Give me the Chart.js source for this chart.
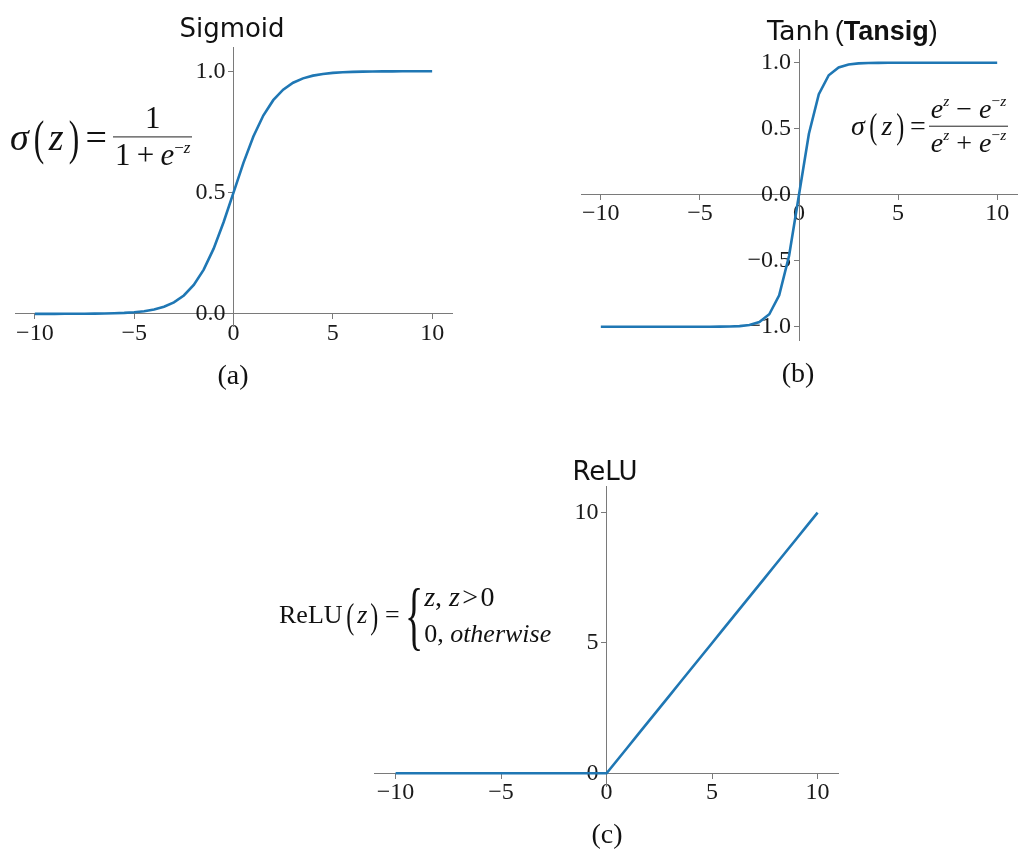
<!DOCTYPE html>
<html><head><meta charset="utf-8">
<script src="https://cdn.jsdelivr.net/npm/chart.js@4.4.0/dist/chart.umd.min.js"></script>
<style>
html,body{margin:0;padding:0;background:#fff;}
body{width:1019px;height:854px;position:relative;overflow:hidden;}
canvas{position:absolute;left:0;top:0;}
.t{position:absolute;white-space:nowrap;color:#111;line-height:1;}
.title{font-family:'DejaVu Sans';font-size:26px;}
.cap{font-family:'Liberation Serif';font-size:28px;transform:translateX(-50%);}
.m{font-family:'Liberation Serif';display:flex;align-items:center;color:#111;}
.frac{display:inline-flex;flex-direction:column;align-items:center;}
.frac .n{padding:0 2px 1px;line-height:1.1;}
.frac .d{border-top:1.5px solid #222;padding:1px 2px 0;line-height:1.1;}
.i{font-style:italic;}
.p{display:inline-block;transform:scale(0.75,1.15);}
sup{font-size:0.55em;vertical-align:0.75em;line-height:0;}
</style></head>
<body>
<canvas id="c1" width="1019" height="854" style="width:1019px;height:854px"></canvas>
<canvas id="c2" width="1019" height="854" style="width:1019px;height:854px"></canvas>
<canvas id="c3" width="1019" height="854" style="width:1019px;height:854px"></canvas>

<div class="t title" style="left:232px;top:15px;transform:translateX(-50%)">Sigmoid</div>
<div class="t" style="left:767px;top:17px;"><span style="font-family:'DejaVu Sans';font-size:27px">Tanh</span><span style="font-family:'Liberation Sans';font-size:27px;margin-left:5px">(<b>Tansig</b>)</span></div>
<div class="t title" style="left:605px;top:458px;transform:translateX(-50%)">ReLU</div>

<div class="t cap" style="left:233px;top:361px">(a)</div>
<div class="t cap" style="left:798px;top:359px">(b)</div>
<div class="t cap" style="left:607px;top:820px">(c)</div>

<div class="t m" style="left:10px;top:137px;transform:translateY(-50%);font-size:38px">
  <span class="i">σ</span><span class="p" style="font-size:42px;margin:0 3px">(</span><span class="i">z</span><span class="p" style="font-size:42px;margin:0 3px">)</span><span style="margin:0 6px 0 2px">=</span>
  <span class="frac" style="font-size:31px"><span class="n">1</span><span class="d">1&#8201;+&#8201;<span class="i">e</span><sup>−<span class="i">z</span></sup></span></span>
</div>

<div class="t m" style="left:851px;top:126px;transform:translateY(-50%);font-size:28px">
  <span class="i">σ</span><span class="p" style="font-size:32px;margin:0 3px">(</span><span class="i">z</span><span class="p" style="font-size:32px;margin:0 3px">)</span><span style="margin:0 3px 0 1px">=</span>
  <span class="frac" style="font-size:28px"><span class="n"><span class="i">e</span><sup class="i">z</sup> − <span class="i">e</span><sup>−<span class="i">z</span></sup></span><span class="d"><span class="i">e</span><sup class="i">z</sup> + <span class="i">e</span><sup>−<span class="i">z</span></sup></span></span>
</div>

<div class="t m" style="left:279px;top:615px;transform:translateY(-50%);font-size:26px">
  <span>ReLU</span><span class="p" style="font-size:32px;margin:0 2px">(</span><span class="i">z</span><span class="p" style="font-size:32px;margin:0 2px">)</span><span style="margin:0 3px">=</span>
  <span style="font-size:76px;display:inline-block;transform:scaleX(0.5);margin:0 -8px 0 -7px;line-height:1">{</span>
  <span style="display:inline-flex;flex-direction:column;line-height:1.38"><span style="font-size:28px"><span class="i">z</span>, <span class="i">z</span>&#8202;&gt;&#8202;0</span><span>0, <span class="i">otherwise</span></span></span>
</div>

<script>
const xValues = [-10,-9.5,-9,-8.5,-8,-7.5,-7,-6.5,-6,-5.5,-5,-4.5,-4,-3.5,-3,-2.5,-2,-1.5,-1,-0.5,0,0.5,1,1.5,2,2.5,3,3.5,4,4.5,5,5.5,6,6.5,7,7.5,8,8.5,9,9.5,10];
const sigmoidValues = [0.0000,0.0001,0.0001,0.0002,0.0003,0.0006,0.0009,0.0015,0.0025,0.0041,0.0067,0.0110,0.0180,0.0293,0.0474,0.0759,0.1192,0.1824,0.2689,0.3775,0.5000,0.6225,0.7311,0.8176,0.8808,0.9241,0.9526,0.9707,0.9820,0.9890,0.9933,0.9959,0.9975,0.9985,0.9991,0.9994,0.9997,0.9998,0.9999,0.9999,1.0000];
const tanhValues = [-1.000,-1.000,-1.000,-1.000,-1.000,-1.000,-1.000,-1.000,-1.000,-1.000,-1.000,-1.000,-0.999,-0.998,-0.995,-0.987,-0.964,-0.905,-0.762,-0.462,0.000,0.462,0.762,0.905,0.964,0.987,0.995,0.998,0.999,1.000,1.000,1.000,1.000,1.000,1.000,1.000,1.000,1.000,1.000,1.000,1.000];
const reluValues = [0,0,0,0,0,0,0,0,0,0,0,0,0,0,0,0,0,0,0,0,0,0.5,1,1.5,2,2.5,3,3.5,4,4.5,5,5.5,6,6.5,7,7.5,8,8.5,9,9.5,10];
const xTickValues = [-10,-5,0,5,10];
const sigmoidTickValues = [0,0.5,1];
const tanhTickValues = [-1,-0.5,0,0.5,1];
const reluTickValues = [0,5,10];

const W = 1019, H = 854;
const minus = s => String(s).replace('-', '\u2212');
const axisColor = '#7a7a7a';
const labelColor = '#1a1a1a';
const tickFont = {family:'Liberation Serif', size:24};

function makeChart(id, ys, yTicks, decimals, area, yRange) {
  return new Chart(document.getElementById(id), {
    type: 'line',
    data: {datasets: [{data: xValues.map((x, i) => ({x: x, y: ys[i]})), borderColor: '#1f77b4', borderWidth: 2.6, pointRadius: 0, tension: 0, fill: false, clip: false}]},
    options: {
      responsive: false, animation: false, events: [],
      layout: {padding: {left: area.l, right: W - area.r, top: area.t, bottom: H - area.b}},
      plugins: {legend: {display: false}, tooltip: {enabled: false}, title: {display: false}},
      scales: {
        x: {type: 'linear', min: -11, max: 11, position: {y: 0},
          afterBuildTicks: s => { s.ticks = xTickValues.map(v => ({value: v})); },
          grid: {display: true, drawOnChartArea: false, drawTicks: true, tickLength: 5, color: axisColor, lineWidth: 1},
          border: {display: true, color: axisColor, width: 1},
          ticks: {autoSkip: false, maxRotation: 0, padding: 0, color: labelColor, font: tickFont, callback: v => minus(v)}},
        y: {type: 'linear', min: yRange[0], max: yRange[1], position: {x: 0},
          afterBuildTicks: s => { s.ticks = yTicks.map(v => ({value: v})); },
          grid: {display: true, drawOnChartArea: false, drawTicks: true, tickLength: 5, color: axisColor, lineWidth: 1},
          border: {display: true, color: axisColor, width: 1},
          ticks: {autoSkip: false, padding: 3, color: labelColor, font: tickFont, callback: v => minus(Number(v).toFixed(decimals)) + '\u2004'}}
      }
    }
  });
}

makeChart('c1', sigmoidValues, sigmoidTickValues, 1, {l: 15, r: 452, t: 47, b: 326}, [-0.05, 1.1]);
makeChart('c2', tanhValues, tanhTickValues, 1, {l: 581, r: 1017, t: 49.5, b: 340}, [-1.1, 1.1]);
makeChart('c3', reluValues, reluTickValues, 0, {l: 374.5, r: 838.7, t: 486.6, b: 786.3}, [-0.5, 11]);
</script>
</body></html>
